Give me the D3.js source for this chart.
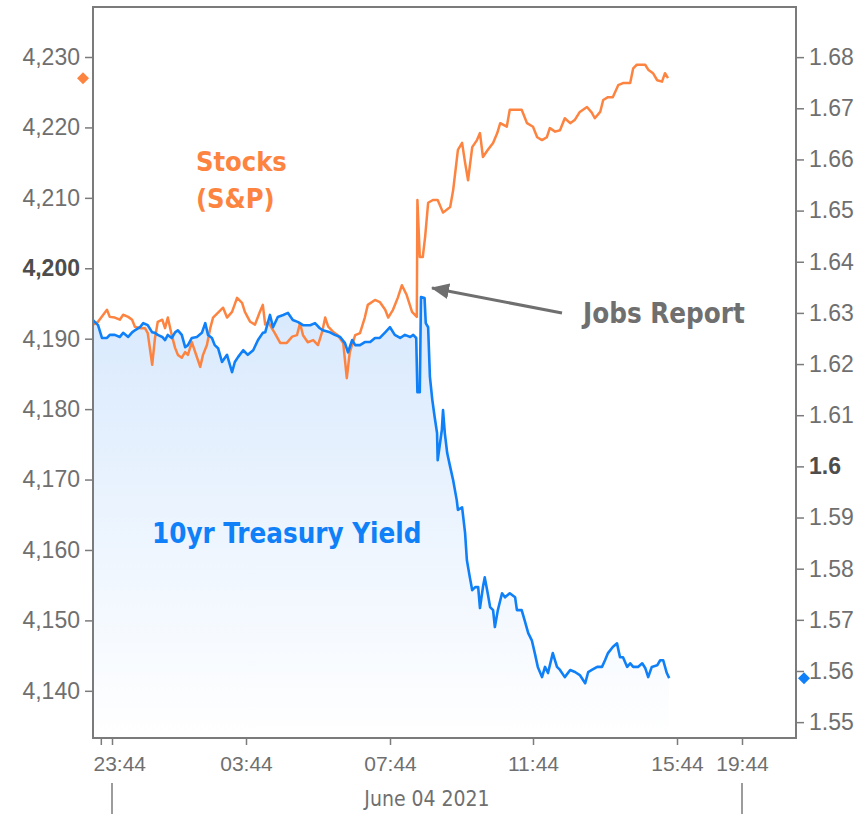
<!DOCTYPE html>
<html lang="en">
<head>
<meta charset="UTF-8" />
<title>Stocks vs 10yr Treasury Yield</title>
<script src="https://cdn.jsdelivr.net/npm/d3@7"></script>
<style>
  body { margin: 0; background: #fff; }
  svg { display: block; font-family: "DejaVu Sans Condensed", "DejaVu Sans", sans-serif; font-stretch: condensed; }
</style>
</head>
<body>
<svg width="861" height="814"></svg>
<script>
// S&P 500 futures, June 3-4 2021 (ET)
var spxTimes = ["23:10","23:19","23:35","23:40","23:49","23:58","00:04","00:13","00:20","00:25","00:34","00:43","00:48","00:56","01:01","01:06","01:14","01:19","01:24","01:31","01:37","01:42","01:49","01:55","02:00","02:07","02:16","02:22","02:27","02:34","02:40","02:45","02:54","03:03","03:10","03:19","03:28","03:37","03:42","03:51","03:59","04:07","04:12","04:16","04:21","04:27","04:32","04:41","04:52","05:01","05:09","05:14","05:19","05:27","05:36","05:44","05:51","05:56","06:01","06:09","06:17","06:26","06:32","06:37","06:46","06:54","07:02","07:07","07:19","07:27","07:36","07:41","07:49","07:57","08:04","08:12","08:21","08:29","08:30","08:34","08:39","08:43","08:48","08:56","09:04","09:13","09:25","09:30","09:38","09:45","09:50","09:55","10:02","10:10","10:15","10:20","10:28","10:37","10:44","10:49","11:00","11:05","11:17","11:25","11:34","11:44","11:51","11:59","12:07","12:12","12:21","12:29","12:37","12:46","12:54","13:02","13:14","13:22","13:27","13:36","13:41","13:49","13:57","14:06","14:14","14:26","14:31","14:37","14:51","14:56","15:04","15:11","15:19","15:24","15:29"];
var spxValues = [4192.0,4192.4,4194.1,4193.1,4193.0,4192.7,4193.4,4193.1,4192.7,4191.7,4191.5,4191.5,4190.8,4186.3,4190.1,4192.4,4192.7,4191.5,4193.0,4190.5,4188.7,4187.7,4187.3,4188.1,4187.7,4189.5,4187.4,4186.0,4187.7,4189.1,4191.5,4193.0,4193.7,4194.4,4193.0,4193.8,4195.8,4195.1,4193.8,4192.4,4192.0,4193.8,4194.8,4192.0,4192.4,4191.5,4190.8,4189.4,4189.4,4190.3,4190.5,4192.2,4190.5,4189.5,4189.8,4189.1,4191.0,4193.0,4191.7,4191.0,4190.5,4189.4,4184.4,4188.1,4190.5,4190.8,4193.0,4194.8,4195.5,4195.2,4194.1,4193.0,4194.1,4195.8,4197.6,4196.2,4193.8,4193.1,4209.7,4201.6,4201.6,4204.5,4209.3,4209.7,4209.7,4207.9,4208.7,4211.1,4216.8,4217.8,4215.0,4212.5,4217.2,4218.2,4219.2,4215.8,4216.8,4217.8,4219.2,4220.6,4220.1,4222.5,4222.5,4222.5,4220.6,4220.1,4218.6,4218.2,4218.6,4219.9,4219.4,4219.6,4221.3,4220.6,4221.1,4222.2,4222.9,4222.1,4221.3,4222.2,4223.9,4224.3,4224.3,4226.0,4226.3,4226.3,4228.4,4228.9,4228.9,4228.2,4227.7,4226.7,4226.5,4227.7,4227.0];

// 10yr Treasury yield, same session
var yieldTimes = ["23:10","23:19","23:26","23:35","23:40","23:49","23:58","00:04","00:13","00:20","00:25","00:34","00:40","00:48","00:56","01:01","01:06","01:14","01:19","01:24","01:31","01:37","01:42","01:49","01:55","02:00","02:07","02:16","02:25","02:31","02:36","02:43","02:48","02:54","03:01","03:10","03:19","03:24","03:30","03:39","03:47","03:56","04:04","04:12","04:16","04:24","04:29","04:37","04:46","04:54","05:02","05:11","05:19","05:31","05:39","05:47","05:52","06:04","06:12","06:21","06:29","06:34","06:41","06:46","06:54","07:02","07:11","07:19","07:27","07:36","07:44","07:52","08:01","08:09","08:18","08:23","08:28","08:30","08:34","08:36","08:42","08:44","08:48","08:51","08:55","08:59","09:03","09:04","09:11","09:13","09:16","09:20","09:25","09:30","09:36","09:38","09:45","09:50","09:53","09:58","10:02","10:07","10:12","10:15","10:20","10:23","10:28","10:32","10:37","10:40","10:45","10:52","10:57","11:05","11:14","11:17","11:25","11:30","11:36","11:42","11:47","11:52","11:59","12:04","12:09","12:17","12:24","12:29","12:37","12:46","12:54","13:02","13:11","13:16","13:22","13:31","13:39","13:44","13:49","13:57","14:04","14:09","14:14","14:21","14:26","14:31","14:39","14:46","14:51","14:56","15:02","15:11","15:16","15:21","15:27","15:31"];
var yieldValues = [1.6286,1.6276,1.6251,1.6251,1.6257,1.6257,1.6253,1.6261,1.6253,1.6262,1.6266,1.6272,1.6280,1.6276,1.6262,1.6261,1.6257,1.6253,1.6247,1.6257,1.6251,1.6262,1.6266,1.6257,1.6233,1.6237,1.6251,1.6253,1.6261,1.6280,1.6257,1.6251,1.6237,1.6231,1.6204,1.6218,1.6184,1.6204,1.6214,1.6227,1.6218,1.6227,1.6247,1.6261,1.6262,1.6296,1.6272,1.6292,1.6296,1.6300,1.6286,1.6282,1.6276,1.6276,1.6280,1.6270,1.6266,1.6262,1.6257,1.6253,1.6241,1.6223,1.6247,1.6237,1.6237,1.6243,1.6243,1.6251,1.6251,1.6262,1.6272,1.6257,1.6251,1.6257,1.6253,1.6257,1.6251,1.6145,1.6145,1.6331,1.6329,1.6280,1.6272,1.6175,1.6130,1.6096,1.6065,1.6012,1.6071,1.6110,1.6065,1.6026,1.5999,1.5973,1.5934,1.5915,1.5920,1.5870,1.5817,1.5783,1.5758,1.5764,1.5764,1.5723,1.5764,1.5783,1.5752,1.5725,1.5719,1.5686,1.5719,1.5752,1.5744,1.5752,1.5744,1.5719,1.5719,1.5699,1.5674,1.5660,1.5635,1.5608,1.5588,1.5608,1.5596,1.5635,1.5608,1.5602,1.5588,1.5602,1.5598,1.5592,1.5576,1.5598,1.5602,1.5608,1.5608,1.5621,1.5635,1.5647,1.5654,1.5627,1.5627,1.5608,1.5615,1.5608,1.5608,1.5615,1.5606,1.5588,1.5608,1.5611,1.5621,1.5621,1.5596,1.5586];

var timeTicks = ["23:24","23:44","03:44","07:44","11:44","15:44","19:44"];
var timeLabels = ["","23:44","03:44","07:44","11:44","15:44","19:44"];
var spxTicks = [4140,4150,4160,4170,4180,4190,4200,4210,4220,4230];
var yieldTicks = [1.55,1.56,1.57,1.58,1.59,1.6,1.61,1.62,1.63,1.64,1.65,1.66,1.67,1.68];
var spxRef = 4200, yieldRef = 1.6;
var dateLabel = "June 04 2021";

var orange = "#fd8440", blue = "#0f80f7", grey = "#6f6f6f";

function parseT(s) {
  var p = s.split(":"), h = +p[0];
  return new Date(2021, 5, h >= 20 ? 3 : 4, h, +p[1]);
}

var svg = d3.select("svg");
var x0 = 93, x1 = 796, y0 = 7, y1 = 738;

// the session axis is not evenly spaced: pinned at each labelled tick
var x = d3.scaleTime()
  .domain([new Date(2021,5,3,23,10), parseT("23:44"), parseT("03:44"), parseT("07:44"),
           parseT("11:44"), parseT("15:44"), parseT("19:44"), new Date(2021,5,4,23,3)])
  .range([x0, 112, 246, 390, 533, 677, 742, x1]);
var yL = d3.scaleLinear().domain([4133.3, 4237.1]).range([y1, y0]);
var yR = d3.scaleLinear().domain([1.5469, 1.6898]).range([y1, y0]);

var spx = spxTimes.map((t, i) => ({ t: parseT(t), v: spxValues[i] }));
var yld = yieldTimes.map((t, i) => ({ t: parseT(t), v: yieldValues[i] }));

var defs = svg.append("defs");
var grad = defs.append("linearGradient").attr("id", "fade")
  .attr("gradientUnits", "userSpaceOnUse")
  .attr("x1", 0).attr("x2", 0).attr("y1", 300).attr("y2", y1);
grad.append("stop").attr("offset", 0).attr("stop-color", "#d8e9fd");
grad.append("stop").attr("offset", 1).attr("stop-color", "#ffffff");

defs.append("marker").attr("id", "head")
  .attr("markerUnits", "userSpaceOnUse")
  .attr("viewBox", "0 0 18 16").attr("markerWidth", 18).attr("markerHeight", 16)
  .attr("refX", 17).attr("refY", 8).attr("orient", "auto")
  .append("path").attr("d", "M0,0L18,8L0,16Z").attr("fill", grey);

// yield area + lines
svg.append("path").datum(yld)
  .attr("fill", "url(#fade)")
  .attr("d", d3.area().x(d => x(d.t)).y0(y1).y1(d => yR(d.v)));

svg.append("path").datum(spx)
  .attr("fill", "none").attr("stroke", orange).attr("stroke-width", 2.5)
  .attr("stroke-linejoin", "round")
  .attr("d", d3.line().x(d => x(d.t)).y(d => yL(d.v)));

svg.append("path").datum(yld)
  .attr("fill", "none").attr("stroke", blue).attr("stroke-width", 2.6)
  .attr("stroke-linejoin", "round")
  .attr("d", d3.line().x(d => x(d.t)).y(d => yR(d.v)));

// frame
svg.append("rect")
  .attr("x", x0).attr("y", y0).attr("width", x1 - x0).attr("height", y1 - y0)
  .attr("fill", "none").attr("stroke", "#7b7b7b").attr("stroke-width", 2);

// axes
var gL = svg.append("g").attr("transform", `translate(${x0},0)`)
  .call(d3.axisLeft(yL).tickValues(spxTicks).tickSize(8).tickPadding(5).tickFormat(d3.format(",")));
var gR = svg.append("g").attr("transform", `translate(${x1},0)`)
  .call(d3.axisRight(yR).tickValues(yieldTicks).tickSize(8).tickPadding(5).tickFormat(d => String(+d.toFixed(2))));
var gX = svg.append("g").attr("transform", `translate(0,${y1})`)
  .call(d3.axisBottom(x).tickValues(timeTicks.map(parseT)).tickSize(7).tickPadding(11)
    .tickFormat((d, i) => timeLabels[i]));

[gL, gR, gX].forEach(g => {
  g.select(".domain").remove();
  g.selectAll(".tick line").attr("stroke", "#7b7b7b").attr("stroke-width", 1.5);
  g.selectAll("text").attr("font-family", null).attr("fill", grey);
});
gL.selectAll("text").attr("font-size", 23);
gR.selectAll("text").attr("font-size", 23);
gX.selectAll("text").attr("font-size", 21);
gL.selectAll(".tick text").filter(d => d === spxRef).attr("font-weight", "bold").attr("fill", "#4d4d4d");
gR.selectAll(".tick text").filter(d => d === yieldRef).attr("font-weight", "bold").attr("fill", "#4d4d4d");

// keep the first time label inside the frame
gX.selectAll(".tick").each(function (d) {
  var t = d3.select(this).select("text");
  var w = t.node().getComputedTextLength();
  if (x(d) - w / 2 < x0) t.attr("text-anchor", "start").attr("x", x0 - x(d));
});

// date span
[parseT("23:44"), parseT("19:44")].forEach(d => {
  svg.append("line").attr("x1", x(d)).attr("x2", x(d)).attr("y1", 783).attr("y2", 814)
    .attr("stroke", "#7b7b7b").attr("stroke-width", 1.5);
});
svg.append("text")
  .attr("x", (x(parseT("23:44")) + x(parseT("19:44"))) / 2).attr("y", 806)
  .attr("text-anchor", "middle").attr("font-size", 21).attr("fill", grey)
  .text(dateLabel);

// last-value markers
svg.append("path").attr("d", d3.symbol(d3.symbolSquare, 72)())
  .attr("transform", `translate(83,${yL(spxValues[spxValues.length - 1])}) rotate(45)`)
  .attr("fill", orange);
svg.append("path").attr("d", d3.symbol(d3.symbolSquare, 72)())
  .attr("transform", `translate(804,${yR(yieldValues[yieldValues.length - 1])}) rotate(45)`)
  .attr("fill", blue);

// annotations
svg.append("text").attr("x", 196).attr("y", 171).attr("font-size", 27).attr("font-weight", "bold")
  .attr("fill", orange).text("Stocks");
svg.append("text").attr("x", 196).attr("y", 208).attr("font-size", 27).attr("font-weight", "bold")
  .attr("fill", orange).text("(S&P)");
svg.append("text").attr("x", 152).attr("y", 543).attr("font-size", 27.5).attr("font-weight", "bold")
  .attr("fill", blue).text("10yr Treasury Yield");
svg.append("text").attr("x", 583).attr("y", 323).attr("font-size", 27.5).attr("font-weight", "bold")
  .attr("fill", grey).text("Jobs Report");
svg.append("line").attr("x1", 562).attr("y1", 313).attr("x2", 432).attr("y2", 288)
  .attr("stroke", grey).attr("stroke-width", 3).attr("marker-end", "url(#head)");
</script>
</body>
</html>
